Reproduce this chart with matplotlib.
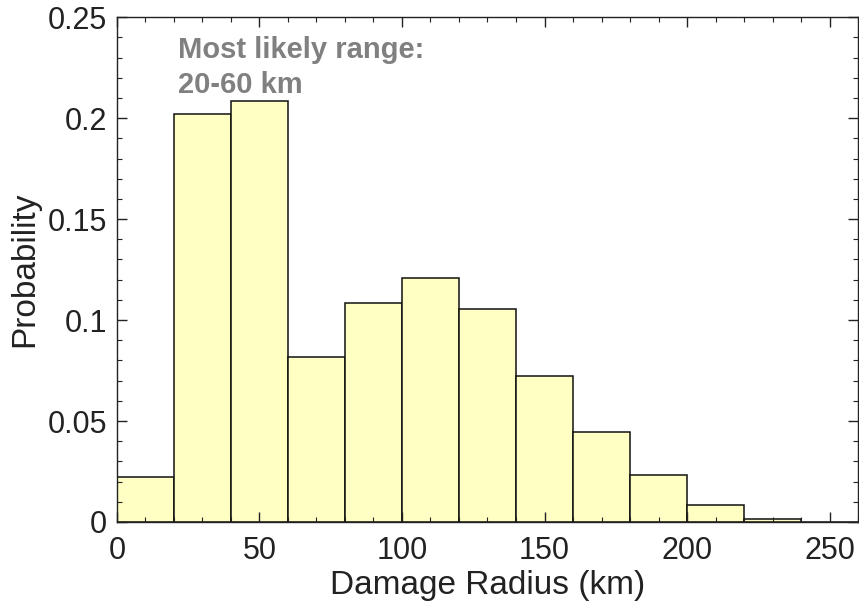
import numpy as np
import matplotlib.pyplot as plt
from matplotlib.ticker import MultipleLocator

plt.rcParams['font.family'] = ['Liberation Sans', 'DejaVu Sans']

# histogram of damage radius, 20 km bins
bin_edges = [0, 20, 40, 60, 80, 100, 120, 140, 160, 180, 200, 220, 240, 260]
probability = [0.0223, 0.202, 0.2084, 0.0817, 0.1084, 0.1208, 0.1054,
               0.0723, 0.0446, 0.0233, 0.0084, 0.0015, 0.0002]
x_ticks = [0, 50, 100, 150, 200, 250]
y_ticks = [0, 0.05, 0.1, 0.15, 0.2, 0.25]
y_tick_labels = ['0', '0.05', '0.1', '0.15', '0.2', '0.25']

fig = plt.figure(figsize=(8.59, 6.13), dpi=100)
ax = fig.add_axes([0.136, 0.1485, 0.863, 0.8235])

edges = np.array(bin_edges)
ax.bar(edges[:-1], probability, width=np.diff(edges), align='edge',
       color='#ffffc4', edgecolor='#111111', linewidth=1.1)

ax.set_xlim(0, 260)
ax.set_ylim(0, 0.25)
ax.set_xticks(x_ticks)
ax.set_yticks(y_ticks)
ax.set_yticklabels(y_tick_labels)
ax.xaxis.set_minor_locator(MultipleLocator(10))
ax.yaxis.set_minor_locator(MultipleLocator(0.01))
ax.tick_params(which='both', direction='in', top=True, right=True,
               labelsize=22, color='#222222', labelcolor='#222222')
ax.tick_params(which='major', length=7, width=1)
ax.tick_params(axis='x', which='major', pad=10)
ax.tick_params(axis='y', which='major', pad=7)
ax.tick_params(which='minor', length=3.5, width=0.8)
for s in ax.spines.values():
    s.set_color('#222222')
    s.set_linewidth(1)

ax.set_xlabel('Damage Radius (km)', fontsize=24, color='#222222', labelpad=3)
ax.set_ylabel('Probability', fontsize=24, color='#222222', labelpad=5)

ax.text(21.3, 0.2405, 'Most likely range:\n20-60 km', fontsize=21,
        fontweight='bold', color='#808080', va='top', ha='left',
        linespacing=1.3)

fig.savefig('out.png', dpi=100)
